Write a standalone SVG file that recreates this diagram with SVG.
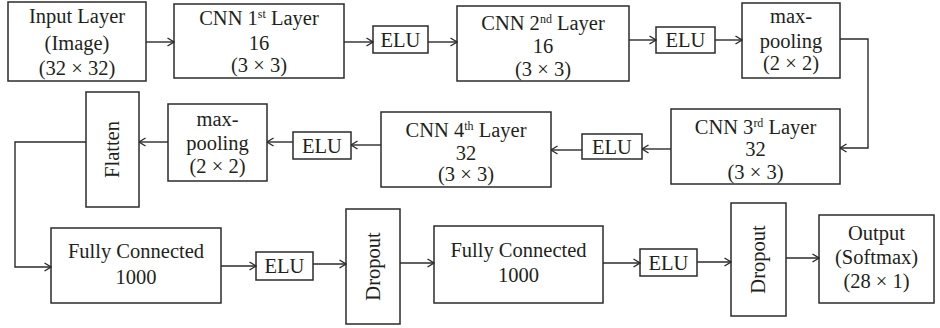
<svg xmlns="http://www.w3.org/2000/svg" width="940" height="328" viewBox="0 0 940 328">
  <style>
    .box { fill: #ffffff; stroke: #2b2b2b; stroke-width: 1.5; }
    text { font-family: "Liberation Serif", "DejaVu Serif", "Times New Roman", serif; font-size: 20.5px; fill: #231f20; text-anchor: middle; }
    .sup { font-size: 12px; }
    .wire { fill: none; stroke: #2b2b2b; stroke-width: 1.4; marker-end: url(#chev); }
  </style>
  <defs>
    <marker id="chev" viewBox="0 0 8 10" refX="7.5" refY="5" markerWidth="8" markerHeight="10" markerUnits="userSpaceOnUse" orient="auto">
      <path d="M1,1 L7.5,5 L1,9" fill="none" stroke="#2b2b2b" stroke-width="1.4"/>
    </marker>
  </defs>

  <rect width="940" height="328" fill="#ffffff"/>

  <!-- row 1 -->
  <g id="input">
    <rect class="box" x="8" y="2" width="138" height="79"/>
    <text x="77" y="23">Input Layer</text>
    <text x="77" y="50">(Image)</text>
    <text x="77" y="75">(32 × 32)</text>
  </g>
  <g id="cnn1">
    <rect class="box" x="174" y="4" width="170" height="74"/>
    <text x="259" y="25">CNN 1<tspan class="sup" dy="-7">st</tspan><tspan dy="7"> Layer</tspan></text>
    <text x="259" y="50">16</text>
    <text x="259" y="72">(3 × 3)</text>
  </g>
  <g id="elu1">
    <rect class="box" x="373" y="26" width="55" height="27"/>
    <text x="400.5" y="47">ELU</text>
  </g>
  <g id="cnn2">
    <rect class="box" x="457" y="6" width="172" height="75"/>
    <text x="543" y="30">CNN 2<tspan class="sup" dy="-7">nd</tspan><tspan dy="7"> Layer</tspan></text>
    <text x="543" y="53">16</text>
    <text x="543" y="76">(3 × 3)</text>
  </g>
  <g id="elu2">
    <rect class="box" x="656" y="27" width="59" height="26"/>
    <text x="685.5" y="47">ELU</text>
  </g>
  <g id="maxpool1">
    <rect class="box" x="742" y="3" width="98" height="75"/>
    <text x="791" y="23">max-</text>
    <text x="791" y="48">pooling</text>
    <text x="791" y="70">(2 × 2)</text>
  </g>

  <!-- row 2 -->
  <g id="cnn3">
    <rect class="box" x="671" y="109" width="169" height="75"/>
    <text x="755.5" y="134">CNN 3<tspan class="sup" dy="-7">rd</tspan><tspan dy="7"> Layer</tspan></text>
    <text x="755.5" y="156">32</text>
    <text x="755.5" y="179">(3 × 3)</text>
  </g>
  <g id="elu3">
    <rect class="box" x="582" y="134" width="60" height="25"/>
    <text x="612" y="154">ELU</text>
  </g>
  <g id="cnn4">
    <rect class="box" x="381" y="112" width="170" height="75"/>
    <text x="466" y="137">CNN 4<tspan class="sup" dy="-7">th</tspan><tspan dy="7"> Layer</tspan></text>
    <text x="466" y="160">32</text>
    <text x="466" y="181">(3 × 3)</text>
  </g>
  <g id="elu4">
    <rect class="box" x="293" y="132" width="58" height="27"/>
    <text x="322" y="153">ELU</text>
  </g>
  <g id="maxpool2">
    <rect class="box" x="168" y="104" width="99" height="77"/>
    <text x="217.5" y="126">max-</text>
    <text x="217.5" y="150">pooling</text>
    <text x="217.5" y="173">(2 × 2)</text>
  </g>
  <g id="flatten">
    <rect class="box" x="86" y="92" width="53" height="115"/>
    <text transform="translate(119,149.5) rotate(-90)">Flatten</text>
  </g>

  <!-- row 3 -->
  <g id="fc1">
    <rect class="box" x="51" y="228" width="170" height="75"/>
    <text x="136" y="258">Fully Connected</text>
    <text x="136" y="284">1000</text>
  </g>
  <g id="elu5">
    <rect class="box" x="256" y="252" width="57" height="28"/>
    <text x="284.5" y="273">ELU</text>
  </g>
  <g id="dropout1">
    <rect class="box" x="346" y="209" width="54" height="115"/>
    <text transform="translate(380,266.5) rotate(-90)">Dropout</text>
  </g>
  <g id="fc2">
    <rect class="box" x="434" y="226" width="169" height="77"/>
    <text x="518.5" y="257">Fully Connected</text>
    <text x="518.5" y="282">1000</text>
  </g>
  <g id="elu6">
    <rect class="box" x="640" y="249" width="57" height="27"/>
    <text x="668.5" y="270">ELU</text>
  </g>
  <g id="dropout2">
    <rect class="box" x="731" y="203" width="55" height="113"/>
    <text transform="translate(765,259.5) rotate(-90)">Dropout</text>
  </g>
  <g id="output">
    <rect class="box" x="819" y="215" width="115" height="88"/>
    <text x="876.5" y="240">Output</text>
    <text x="876.5" y="264">(Softmax)</text>
    <text x="876.5" y="288">(28 × 1)</text>
  </g>

  <g id="connectors">
    <path class="wire" d="M146,42 H174"/>
    <path class="wire" d="M344,42 H373"/>
    <path class="wire" d="M428,42 H457"/>
    <path class="wire" d="M629,40 H656"/>
    <path class="wire" d="M715,40 H742"/>
    <path class="wire" d="M840,39 H868 V148 H840"/>
    <path class="wire" d="M671,149 H642"/>
    <path class="wire" d="M582,150 H551"/>
    <path class="wire" d="M381,145 H351"/>
    <path class="wire" d="M293,142 H267"/>
    <path class="wire" d="M168,142 H139"/>
    <path class="wire" d="M86,142 H15 V267 H51"/>
    <path class="wire" d="M221,266 H256"/>
    <path class="wire" d="M313,264 H346"/>
    <path class="wire" d="M400,263 H434"/>
    <path class="wire" d="M603,263 H640"/>
    <path class="wire" d="M697,262 H731"/>
    <path class="wire" d="M786,258 H819"/>
  </g>
</svg>
